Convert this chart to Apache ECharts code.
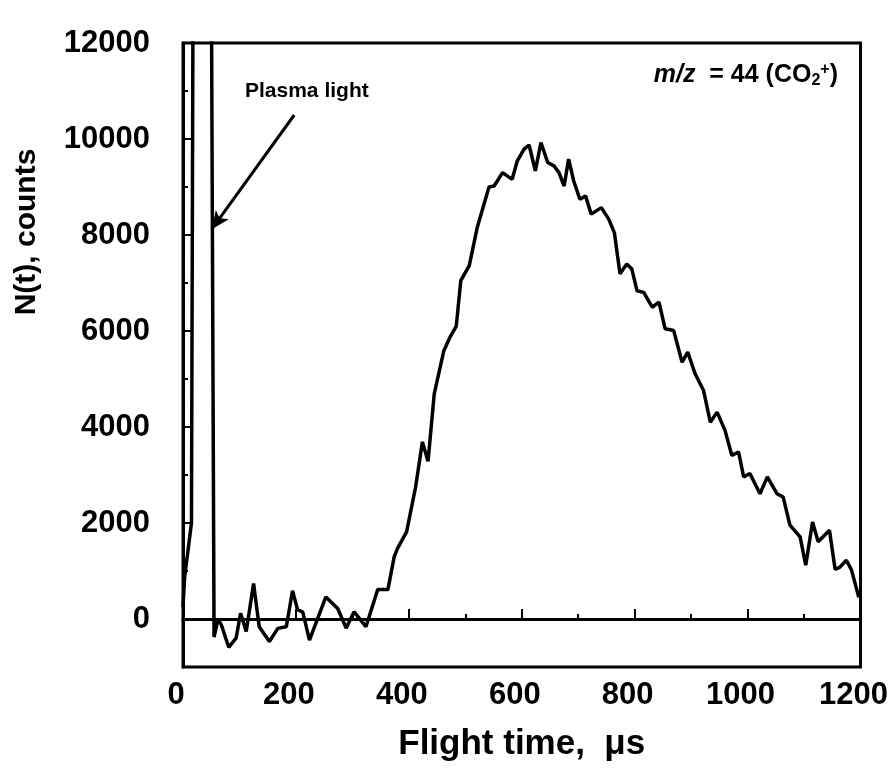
<!DOCTYPE html>
<html>
<head>
<meta charset="utf-8">
<title>N(t) flight time</title>
<script src="https://cdn.jsdelivr.net/npm/echarts@6/dist/echarts.min.js"></script>
<style>
  html, body { margin: 0; padding: 0; background: #fff; }
  #chart { width: 891px; height: 783px; }
</style>
</head>
<body>
<div id="chart"></div>
<script>
// flight time (us) and counts
var flightTime = [0, 3, 15, 18, 50, 55, 62, 68, 81, 94, 102, 112, 125, 135, 153, 168, 183, 194, 203, 212,
  224, 253, 274, 289, 303, 324, 345, 363, 374, 380, 396, 412, 424, 434, 445, 462, 472, 484, 492, 507,
  521, 542, 551, 566, 583, 592, 604, 613, 624, 634, 646, 657, 666, 675, 683, 692, 703, 713, 723, 741,
  754, 764, 774, 786, 795, 804, 816, 831, 843, 854, 869, 884, 894, 907, 922, 934, 946, 960, 972, 984,
  993, 1004, 1022, 1035, 1052, 1063, 1075, 1093, 1103, 1115, 1125, 1145, 1155, 1163, 1175, 1184, 1197]
var counts = [250, 880, 2000, 14000, 14000, -375, 0, -125, -590, -400, 120, -260, 740, -160, -470, -195, -160, 590, 190, 150,
  -440, 460, 220, -190, 150, -160, 617, 617, 1295, 1470, 1815, 2750, 3690, 3285, 4690, 5590, 5850, 6100, 7050, 7360,
  8150, 9000, 9020, 9300, 9160, 9540, 9790, 9875, 9335, 9925, 9510, 9440, 9300, 9020, 9580, 9125, 8745, 8815, 8435, 8570,
  8330, 8050, 7190, 7395, 7290, 6840, 6805, 6495, 6600, 6045, 6010, 5350, 5560, 5110, 4760, 4100, 4310, 3930, 3410, 3480,
  2960, 3030, 2610, 2960, 2610, 2540, 1955, 1710, 1120, 2020, 1610, 1850, 1035, 1075, 1225, 1020, 450]

var yLabels = [0, 2000, 4000, 6000, 8000, 10000, 12000]
var yMinor = [1000, 3000, 5000, 7000, 9000, 11000]

// arrow for the plasma light note, in data units
var arrowFrom = [197, 10500]
var arrowTo = [51, 8120]

var font = '"Liberation Sans", Arial, sans-serif'
var myChart = echarts.init(document.getElementById('chart'))
var points = flightTime.map(function (t, i) {
  return [t, counts[i]]
})

var option = {
  animation: false,
  backgroundColor: '#fff',
  grid: {
    left: 183,
    right: 26,
    top: 43,
    bottom: 116,
    show: true,
    borderColor: '#000',
    borderWidth: 3
  },
  xAxis: {
    type: 'value',
    min: 0,
    max: 1200,
    interval: 200,
    name: 'Flight time,  \u03bcs',
    nameLocation: 'middle',
    nameGap: 60,
    nameTextStyle: {color: '#000', fontFamily: font, fontWeight: 'bold', fontSize: 35},
    axisLine: {show: true, lineStyle: {color: '#000', width: 3}},
    axisTick: {show: true, inside: true, length: 10, lineStyle: {color: '#000', width: 2}},
    minorTick: {show: true, splitNumber: 2, length: 5, lineStyle: {color: '#000', width: 2}},
    splitLine: {show: false},
    axisLabel: {
      color: '#000',
      fontFamily: font,
      fontWeight: 'bold',
      fontSize: 31,
      margin: 13,
      padding: [0, 14, 0, 0],
      formatter: function (v) {
        return String(v)
      }
    }
  },
  yAxis: [{
    type: 'value',
    min: -1000,
    max: 12000,
    position: 'left',
    axisLine: {show: true, lineStyle: {color: '#000', width: 3}},
    axisTick: {show: true, inside: true, length: 9, customValues: yLabels, lineStyle: {color: '#000', width: 2}},
    splitLine: {show: false},
    axisLabel: {
      customValues: yLabels,
      color: '#000',
      fontFamily: font,
      fontWeight: 'bold',
      fontSize: 31,
      margin: 33,
      padding: [0, 0, 8, 0],
      formatter: function (v) {
        return String(v)
      }
    }
  }, {
    type: 'value',
    min: -1000,
    max: 12000,
    position: 'left',
    offset: 0,
    axisLine: {show: false},
    axisTick: {show: true, inside: true, length: 5, customValues: yMinor, lineStyle: {color: '#000', width: 2}},
    axisLabel: {show: false},
    splitLine: {show: false}
  }],
  graphic: [{
    type: 'text',
    x: 27,
    y: 232,
    rotation: Math.PI / 2,
    style: {
      text: 'N(t), counts',
      fill: '#000',
      font: 'bold 30px ' + font,
      align: 'center',
      verticalAlign: 'middle'
    }
  }, {
    type: 'text',
    x: 245,
    y: 91,
    style: {
      text: 'Plasma light',
      fill: '#000',
      font: 'bold 21px ' + font,
      align: 'left',
      verticalAlign: 'middle'
    }
  }, {
    type: 'text',
    x: 838,
    y: 75,
    style: {
      text: '{i|m/z}  = 44 (CO{sub|2}{sup|+})',
      fill: '#000',
      font: 'bold 25px ' + font,
      align: 'right',
      verticalAlign: 'middle',
      rich: {
        i: {fontStyle: 'italic', fontWeight: 'bold', fontSize: 25, fontFamily: font},
        sub: {fontWeight: 'bold', fontSize: 16, fontFamily: font, verticalAlign: 'bottom', padding: [11, 0, 0, 0]},
        sup: {fontWeight: 'bold', fontSize: 16, fontFamily: font, verticalAlign: 'top', padding: [0, 0, 11, 0]}
      }
    }
  }],
  series: [{
    name: 'N(t)',
    type: 'line',
    data: points,
    showSymbol: false,
    clip: true,
    lineStyle: {color: '#000', width: 3.5},
    markLine: {
      silent: true,
      symbol: ['none', 'none'],
      label: {show: false},
      data: [
        {yAxis: 0, lineStyle: {color: '#000', width: 2, type: 'solid'}},
        [
          {coord: arrowFrom, symbol: 'none'},
          {coord: arrowTo, symbol: 'arrow', symbolSize: [12, 18], lineStyle: {color: '#000', width: 3, type: 'solid'}}
        ]
      ]
    }
  }]
}
myChart.setOption(option)
</script>
</body>
</html>
